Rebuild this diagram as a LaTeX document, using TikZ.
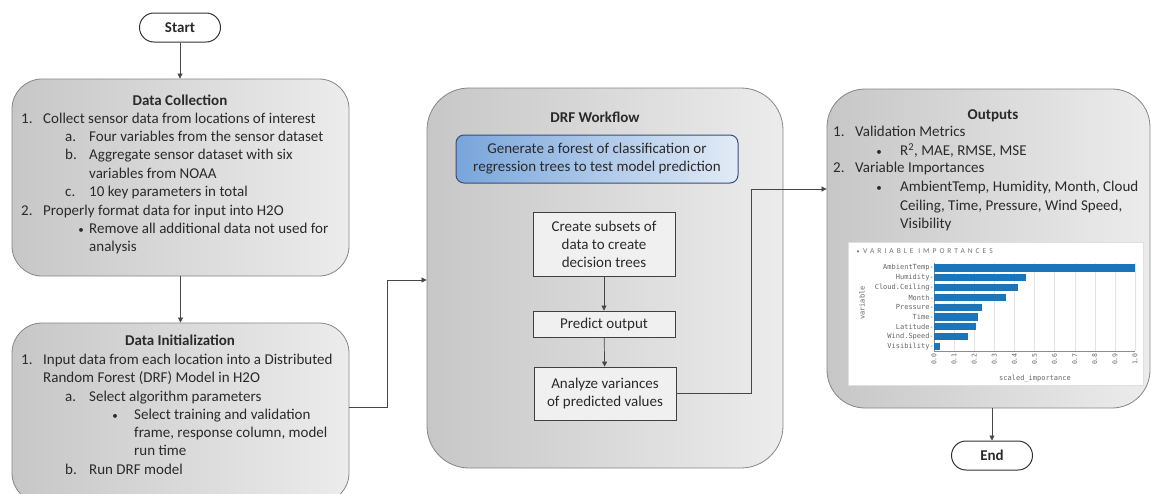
\documentclass[tikz,border=0pt]{standalone}
\usepackage{fontspec}
\setmainfont{Carlito}
\newfontfamily\chartmono{DejaVu Sans Mono}
\newfontfamily\symfont{DejaVu Sans}
\usetikzlibrary{arrows.meta,calc}
\definecolor{txt}{HTML}{2A2A2A}
\definecolor{barblue}{HTML}{1C75B8}
\definecolor{bluel}{HTML}{78A5DB}
\definecolor{bluer}{HTML}{E2EBF6}
\definecolor{blueborder}{HTML}{34507A}
\begin{document}
\begin{tikzpicture}[x=1pt,y=-1pt,
  font=\fontsize{15}{18}\selectfont, text=txt,
  panel/.style={draw=black!48, line width=0.8pt, left color=gray!44, right color=gray!15, inner sep=0pt},
  terminal/.style={draw=black!80, line width=1pt, fill=white, rounded corners=14.5pt, minimum width=81pt, minimum height=29pt, inner sep=0pt, font=\fontsize{15}{18}\selectfont\bfseries},
  stepbox/.style={draw=black!75, line width=0.9pt, fill=gray!12, minimum width=142pt, inner sep=0pt, align=center},
  arr/.style={draw=black!72, line width=0.7pt, -{Triangle[length=5pt,width=5pt]}},
  ln/.style={anchor=mid west, inner sep=0pt},
  bul/.style={anchor=mid, inner sep=0pt, font=\fontsize{11}{18}\selectfont},
  ttl/.style={anchor=mid, inner sep=0pt, font=\fontsize{15}{18}\selectfont\bfseries},
  chl/.style={inner sep=0pt, font=\chartmono\fontsize{7}{8}\selectfont, text=black!60}
]
\useasboundingbox (0,0) rectangle (1151,493);

% ---------- panels ----------
\node[panel, rounded corners=30pt, minimum width=337pt, minimum height=197pt] (dc) at (180.5,177.5) {};
\node[panel, rounded corners=30pt, minimum width=337pt, minimum height=180pt] (di) at (180.5,413) {};
\node[panel, rounded corners=42pt, minimum width=356pt, minimum height=380pt] (drf) at (605,278) {};
\node[panel, rounded corners=38pt, minimum width=323pt, minimum height=319pt] (out) at (988.5,248.5) {};

% ---------- terminals ----------
\node[terminal] (start) at (180,27.5) {Start};
\node[terminal] (end) at (992,455.5) {End};

% ---------- Data Collection text ----------
\node[ttl] (dct) at (180,103) {Data Collection};
\node[ln] (dc1n) at (21,121) {1.};
\node[ln] (dc1) at (43,121) {Collect sensor data from locations of interest};
\node[ln] (dcan) at (65,139) {a.};
\node[ln] (dca) at (89,139) {Four variables from the sensor dataset};
\node[ln] (dcbn) at (65,157) {b.};
\node[ln] (dcb) at (89,157) {Aggregate sensor dataset with six};
\node[ln] (dcb2) at (89,176) {variables from NOAA};
\node[ln] (dccn) at (65,194) {c.};
\node[ln] (dcc) at (89,194) {10 key parameters in total};
\node[ln] (dc2n) at (21,213) {2.};
\node[ln] (dc2) at (43,213) {Properly format data for input into H2O};
\node[bul] (dcbu) at (81,231) {•};
\node[ln] (dcr) at (89,231) {Remove all additional data not used for};
\node[ln] (dcr2) at (89,249) {analysis};

% ---------- Data Initialization text ----------
\node[ttl] (dit) at (180,343) {Data Initialization};
\node[ln] (di1n) at (21,362) {1.};
\node[ln] (di1) at (43,362) {Input data from each location into a Distributed};
\node[ln] (di1b) at (43,380) {Random Forest (DRF) Model in H2O};
\node[ln] (dian) at (65,399) {a.};
\node[ln] (dia) at (89,399) {Select algorithm parameters};
\node[bul] (dibu) at (115,417) {•};
\node[ln] (dis) at (134,417) {Select training and validation};
\node[ln] (dis2) at (134,435) {frame, response column, model};
\node[ln] (dis3) at (134,453) {run time};
\node[ln] (dibn) at (65,472) {b.};
\node[ln] (dib) at (89,472) {Run DRF model};

% ---------- DRF workflow ----------
\node[ttl] (drft) at (595,120) {DRF Workflow};
\node[draw=blueborder, line width=1pt, rounded corners=8pt, left color=bluel, right color=bluer,
      minimum width=282pt, minimum height=48pt, inner sep=0pt, align=center] (gen) at (597,159)
      {Generate a forest of classification or\\regression trees to test model prediction};
\node[stepbox, minimum height=64pt] (create) at (604,244) {Create subsets of\\data to create\\decision trees};
\node[stepbox, minimum height=26pt] (predict) at (604,324) {Predict output};
\node[stepbox, minimum height=53pt] (analyze) at (605,393.5) {Analyze variances\\of predicted values};

% ---------- Outputs text ----------
\node[ttl] (outt) at (993,117) {Outputs};
\node[ln] (o1n) at (833,134) {1.};
\node[ln] (o1) at (855,134) {Validation Metrics};
\node[bul] (o1bu) at (879,153) {•};
\node[ln] (o1a) at (900,153) {R\textsuperscript{2}, MAE, RMSE, MSE};
\node[ln] (o2n) at (833,170) {2.};
\node[ln] (o2) at (855,170) {Variable Importances};
\node[bul] (o2bu) at (879,189) {•};
\node[ln] (o2a) at (900,189) {AmbientTemp, Humidity, Month, Cloud};
\node[ln] (o2b) at (900,208) {Ceiling, Time, Pressure, Wind Speed,};
\node[ln] (o2c) at (900,226) {Visibility};

% ---------- Variable importances chart ----------
\node[draw=gray!25, fill=white, minimum width=295pt, minimum height=143pt, inner sep=0pt] (chart) at (995.5,313.5) {};
\node[anchor=mid, inner sep=0pt, text=black!55, font=\fontsize{6}{7}\selectfont] (chartdot) at (858,251) {•};
\node[anchor=mid west, inner sep=0pt, text=black!55, font=\fontsize{7.5}{9}\selectfont] (charttitle) at (863,251)
  {\addfontfeature{LetterSpace=40}VARIABLE IMPORTANCES};
\foreach \k in {1,...,10} {
  \draw[gray!22, line width=0.4pt] (934+20.1*\k,263) -- (934+20.1*\k,351);
}
\draw[black!45, line width=0.4pt] (934,263) -- (934,351);
\draw[black!45, line width=0.4pt] (934,351) -- (1135,351);
\foreach \v/\name [count=\i from 0] in {1.0/AmbientTemp, 0.46/Humidity, 0.42/Cloud.Ceiling, 0.36/Month, 0.24/Pressure, 0.22/Time, 0.21/Latitude, 0.17/Wind.Speed, 0.03/Visibility} {
  \fill[barblue] (934,268+9.8*\i-3.6) rectangle (934+201*\v,268+9.8*\i+3.6);
  \node[chl, anchor=east] (lab\i) at (934,268+9.8*\i) {\name-};
}
\foreach \t [count=\j from 0] in {0.0,0.1,0.2,0.3,0.4,0.5,0.6,0.7,0.8,0.9,1.0} {
  \node[chl, rotate=90, anchor=east, font=\chartmono\fontsize{6.5}{7}\selectfont] (tick\j) at (934+20.1*\j,353) {\t};
}
\node[chl] (xlab) at (1035,379) {scaled\_importance};
\node[chl, rotate=90] (ylab) at (862,303) {variable};

% ---------- connectors ----------
\draw[arr] (start.south) -- (start.south |- dc.north);
\draw[arr] (dc.south) -- (dc.south |- di.north);
\coordinate (c1) at (387,407);
\draw[arr] (di.east |- c1) -- (c1) |- (drf.west |- {0,280});
\draw[arr] (create) -- (predict);
\draw[arr] (predict) -- (analyze);
\coordinate (c2) at (751,393.5);
\draw[arr] (analyze.east |- c2) -- (c2) |- (out.west |- {0,189});
\draw[arr] (out.south -| end.north) -- (end.north);
\end{tikzpicture}
\end{document}
